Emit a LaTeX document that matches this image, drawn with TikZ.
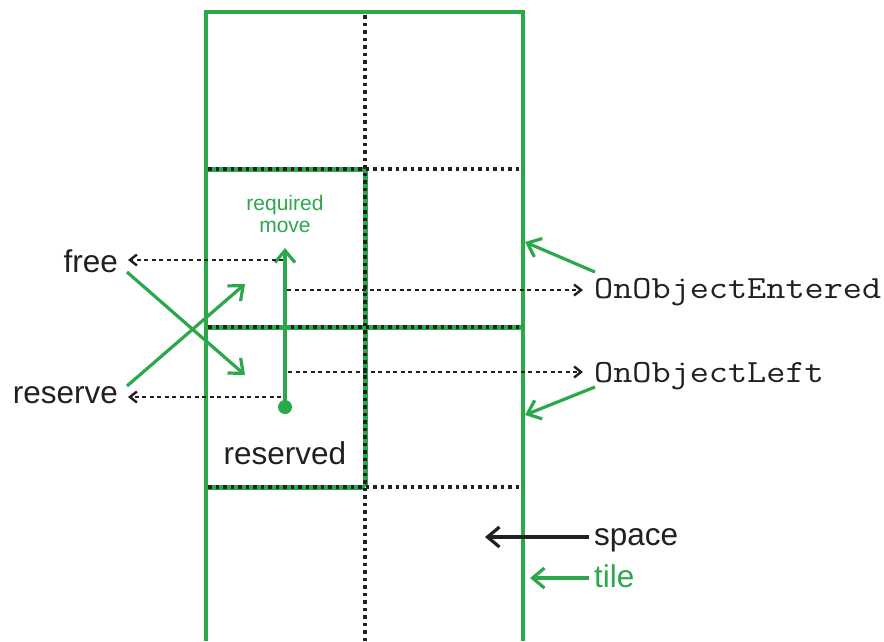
\documentclass[tikz,border=0pt]{standalone}
\usepackage{fontspec}
\setmainfont{Liberation Sans}
\newfontfamily\courfont{Latin Modern Mono}[FakeStretch=1.15]
\usetikzlibrary{arrows.meta}
\definecolor{tgreen}{HTML}{2BA84A}
\definecolor{tblack}{HTML}{231F20}
\begin{document}
\begin{tikzpicture}[x=1pt,y=-1pt,
  gline/.style={draw=tgreen, line width=4pt},
  gunder/.style={draw=tgreen, line width=5pt},
  dotline/.style={draw=tblack, line width=3.5pt, dash pattern=on 3.5pt off 4pt},
  dasharrow/.style={draw=tblack, line width=1.6pt, dash pattern=on 4pt off 3.5pt,
     -{Straight Barb[length=7pt,width=11pt,line width=2.4pt]}},
  garrow/.style={draw=tgreen, line width=3.2pt, -{Straight Barb[length=12pt,width=20pt]}},
  karrow/.style={draw=tblack, line width=3.2pt, -{Straight Barb[length=12pt,width=20pt]}},
  lbl/.style={text=tblack, font=\fontsize{31.5}{37}\selectfont, inner sep=0pt},
  mono/.style={text=tblack, font=\courfont\fontsize{32.3}{37}\selectfont, inner sep=0pt}]
\useasboundingbox (0,0) rectangle (884,641);
% grid
\draw[gline] (206,641) -- (206,12) -- (523,12) -- (523,641);
\draw[gunder] (206,169) -- (365,169);
\draw[gunder] (206,327) -- (523,327);
\draw[gunder] (206,487) -- (365,487);
\draw[gunder] (365,169) -- (365,487);
\draw[dotline] (365,15) -- (365,641);
\draw[dotline] (208,169) -- (523,169);
\draw[dotline] (208,327) -- (523,327);
\draw[dotline] (208,487) -- (523,487);
% labels
\node[lbl, anchor=base east] (free) at (118,272) {free};
\node[lbl, anchor=base east] (reserve) at (118,403) {reserve};
\node[lbl, anchor=base] (reserved) at (285,464) {reserved};
\node[mono, anchor=base west] (entered) at (594,298) {OnObjectEntered};
\node[mono, anchor=base west] (leftn) at (594,382) {OnObjectLeft};
\node[lbl, anchor=base west] (space) at (594,545) {space};
\node[lbl, anchor=base west, text=tgreen] (tile) at (594,587) {tile};
\node[text=tgreen, font=\fontsize{21}{22}\selectfont, align=center, inner sep=0pt, anchor=base] (req) at (285,232) {required\\move};
% required move
\coordinate (dot) at (285,407);
\coordinate (mvtip) at (285,248);
\fill[tgreen] (dot) circle (7);
\draw[garrow] (dot) -- (mvtip);
% dashed signal arrows
\coordinate (sf) at (283,260);
\coordinate (se) at (287,290);
\coordinate (sl) at (288,372);
\coordinate (sr) at (281,397);
\draw[dasharrow] (sf) -- (128,260) coordinate (ef);
\draw[dasharrow] (se) -- (583,290) coordinate (ee);
\draw[dasharrow] (sl) -- (583,372) coordinate (el);
\draw[dasharrow] (sr) -- (128,397) coordinate (er);
% green arrows from free / reserve
\coordinate (fa) at (127,272);
\coordinate (fb) at (245,375);
\coordinate (ra) at (127,386);
\coordinate (rb) at (245,284);
\draw[garrow] (fa) -- (fb);
\draw[garrow] (ra) -- (rb);
% green arrows to tile edge
\coordinate (ea) at (595,272);
\coordinate (eb) at (525,242);
\coordinate (la) at (595,387);
\coordinate (lb) at (525,415);
\draw[garrow] (ea) -- (eb);
\draw[garrow] (la) -- (lb);
% space / tile legend
\coordinate (spa) at (589,537);
\coordinate (spb) at (485,537);
\coordinate (ta) at (589,578);
\coordinate (tb) at (530,578);
\draw[karrow] (spa) -- (spb);
\draw[garrow] (ta) -- (tb);
\end{tikzpicture}
\end{document}
